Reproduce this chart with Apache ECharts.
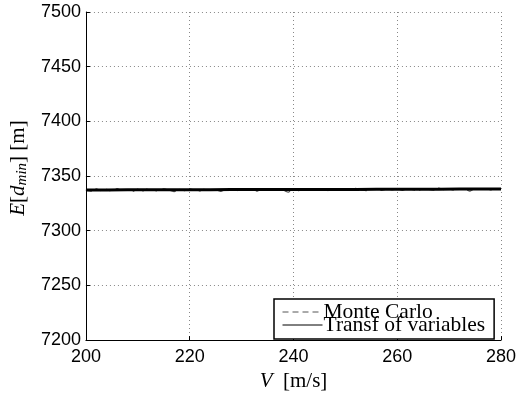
<!DOCTYPE html>
<html>
<head>
<meta charset="utf-8">
<script src="https://cdn.jsdelivr.net/npm/echarts@6/dist/echarts.min.js"></script>
<style>html,body{margin:0;padding:0;background:#fff}#c{width:519px;height:397px}</style>
</head>
<body>
<div id="c"></div>
<script>
// X positions (V, m/s)
var vMC = [200,201,202,203,204,205,206,207,208,209,210,211,212,213,214,215,216,217,218,219,220,221,222,223,224,225,226,227,228,229,230,231,232,233,234,235,236,237,238,239,240,241,242,243,244,245,246,247,248,249,250,251,252,253,254,255,256,257,258,259,260,261,262,263,264,265,266,267,268,269,270,271,272,273,274,275,276,277,278,279,280];
var mcValues = [7337.2,7336.1,7338.3,7336.5,7337.9,7335.8,7338.6,7336.9,7337.4,7335.9,7338.1,7336.4,7338.7,7337.0,7336.2,7338.4,7337.3,7335.7,7337.8,7336.6,7338.2,7337.1,7336.3,7338.5,7336.8,7337.6,7335.9,7338.0,7337.2,7336.5,7338.6,7336.9,7337.7,7336.1,7338.3,7337.4,7336.7,7338.1,7337.0,7335.2,7337.9,7336.6,7338.4,7337.2,7336.8,7338.6,7337.5,7336.4,7338.2,7337.1,7338.0,7336.9,7338.7,7337.3,7336.6,7338.5,7337.8,7336.9,7338.3,7337.4,7338.1,7336.8,7338.9,7337.5,7336.7,7338.4,7337.9,7337.1,7339.0,7337.6,7338.2,7336.9,7338.6,7337.8,7336.2,7338.5,7337.7,7338.8,7337.4,7338.1,7338.3];
var vTV = [200,204,208,212,216,220,224,228,232,236,240,244,248,252,256,260,264,268,272,276,280];
var tvValues = [7337.3,7337.3,7337.4,7337.4,7337.5,7337.5,7337.5,7337.6,7337.6,7337.7,7337.7,7337.7,7337.8,7337.8,7337.9,7337.9,7338.0,7338.0,7338.1,7338.1,7338.2];
var seriesNames = ['Monte Carlo', 'Transf of variables'];

function pairs(xs, ys){ return xs.map(function(x,i){ return [x, ys[i]]; }); }
function plain(v){ return String(v); }

var chart = echarts.init(document.getElementById('c'), null, {renderer:'canvas'});
var tickFont = {fontFamily:'Liberation Sans', fontSize:18, color:'#000', formatter:plain};
chart.setOption({
  animation:false,
  backgroundColor:'#fff',
  grid:{left:82, right:15, top:12, bottom:56, containLabel:false},
  xAxis:{
    type:'value', min:200, max:280, interval:20,
    name:'{i|V}  [m/s]', nameLocation:'middle', nameGap:27,
    nameTextStyle:{fontFamily:'Liberation Serif', fontSize:21, color:'#000',
      rich:{i:{fontFamily:'Liberation Serif', fontStyle:'italic', fontSize:21, color:'#000'}}},
    axisLine:{show:true, onZero:false, lineStyle:{color:'#000', width:1}},
    axisTick:{show:true, inside:true, length:4, lineStyle:{color:'#000'}},
    axisLabel:Object.assign({margin:8}, tickFont),
    splitLine:{show:true, lineStyle:{color:'#888', type:[1,3], width:1}}
  },
  yAxis:{
    type:'value', min:7200, max:7500, interval:50,
    name:'{i|E}[{i|d}{sub|min}] [m]', nameLocation:'middle', nameGap:55, nameRotate:90,
    nameTextStyle:{fontFamily:'Liberation Serif', fontSize:21, color:'#000', padding:[0,0,0,16],
      rich:{i:{fontFamily:'Liberation Serif', fontStyle:'italic', fontSize:21, color:'#000'},
            sub:{fontFamily:'Liberation Serif', fontStyle:'italic', fontSize:15, color:'#000', padding:[8,0,0,0]}}},
    axisLine:{show:true, onZero:false, lineStyle:{color:'#000', width:1}},
    axisTick:{show:true, inside:true, length:4, lineStyle:{color:'#000'}},
    axisLabel:Object.assign({margin:5}, tickFont),
    splitLine:{show:true, lineStyle:{color:'#888', type:[1,3], width:1}}
  },
  legend:{
    orient:'vertical', left:274, top:299,
    itemWidth:40, itemHeight:12, itemGap:-9,
    padding:[2,9,3,8],
    backgroundColor:'#fff', borderColor:'#000', borderWidth:1.5, borderRadius:0,
    itemStyle:{color:'rgba(0,0,0,0)', borderColor:'rgba(0,0,0,0)', borderWidth:0},
    lineStyle:{width:1},
    textStyle:{fontFamily:'Liberation Serif', fontSize:21.5, color:'#000', lineHeight:14, padding:[0,0,0,-4]},
    data:seriesNames.map(function(n){ return {name:n}; })
  },
  series:[
    {name:seriesNames[0], type:'line', data:pairs(vMC, mcValues), symbol:'none',
     lineStyle:{color:'#555', width:1.2, type:[6,4]}, itemStyle:{color:'#555'}, z:2},
    {name:seriesNames[1], type:'line', data:pairs(vTV, tvValues), symbol:'none',
     lineStyle:{color:'#000', width:3, type:'solid'}, itemStyle:{color:'#000'}, z:3}
  ]
});
</script>
</body>
</html>
